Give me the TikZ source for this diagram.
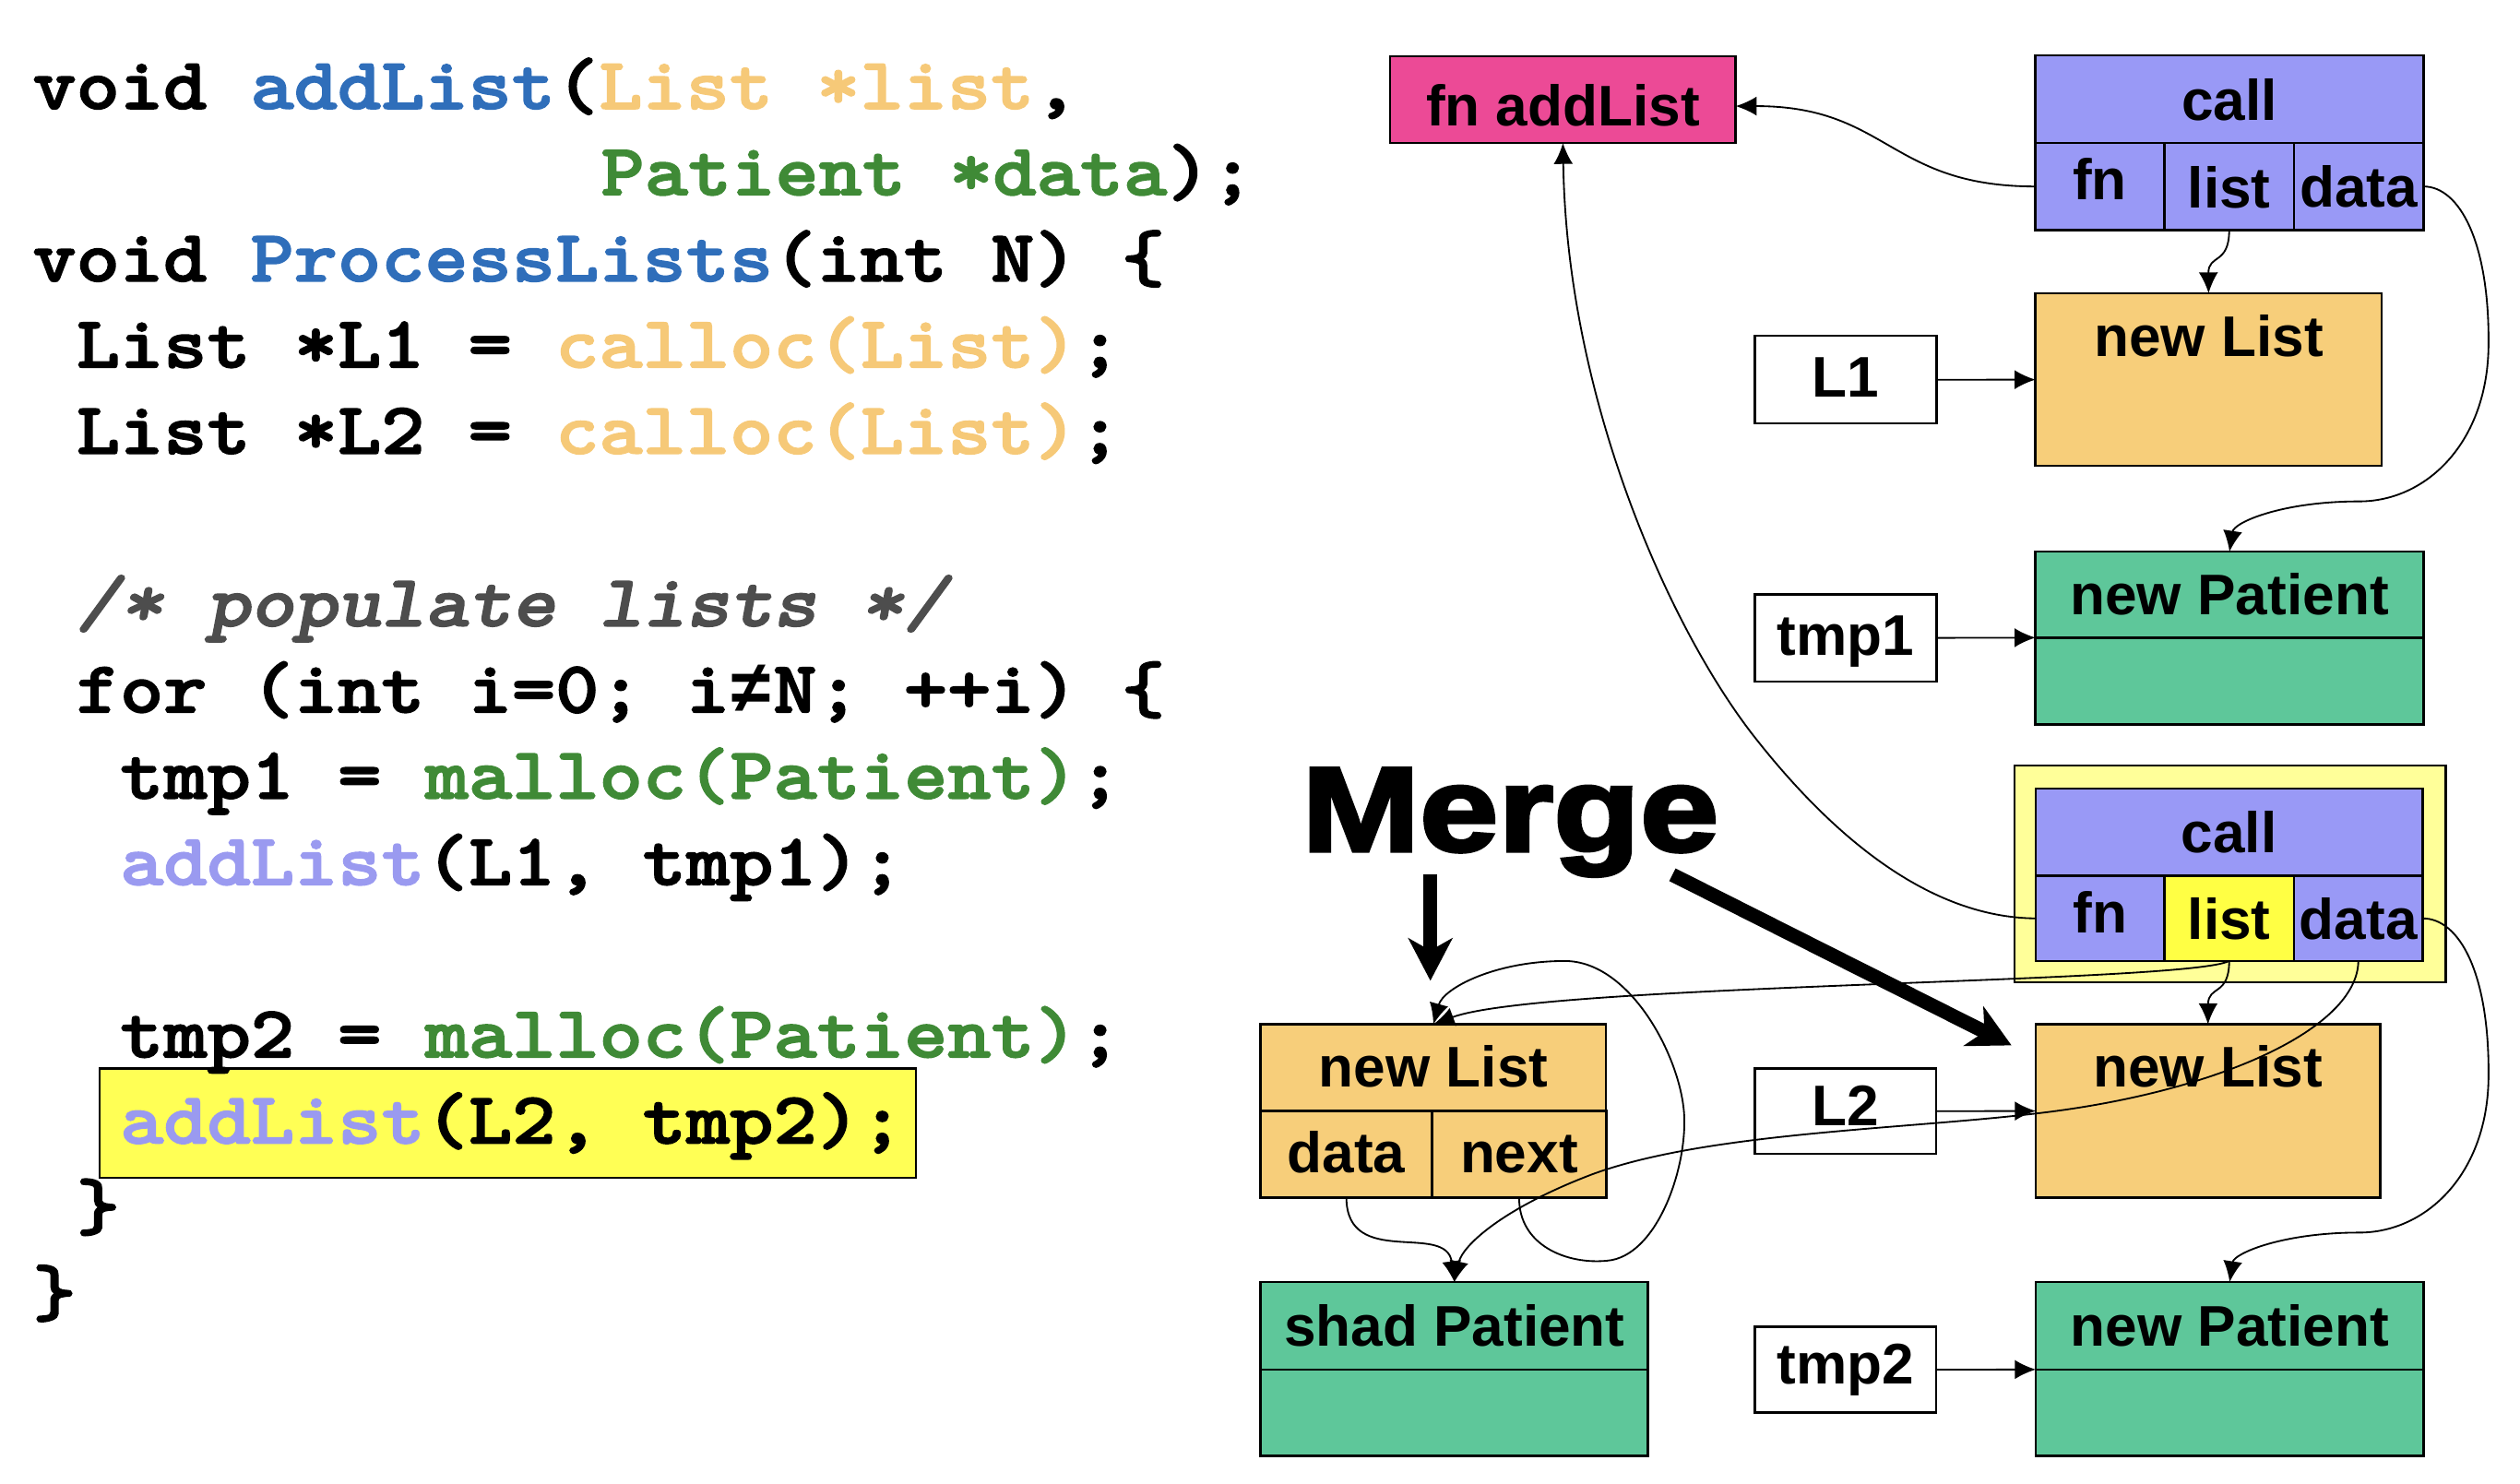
\documentclass[tikz,border=0pt]{standalone}
\usepackage{fontspec}
\setmainfont{Liberation Sans}
\newfontfamily\codefont[Extension=.otf, UprightFont=*-bold, ItalicFont=*-boldoblique, FakeStretch=1.13, FakeBold=2]{lmmonolt10}
\newfontfamily\neqfont{Liberation Mono}
\newfontfamily\mergefont[FakeStretch=1.18,FakeBold=3]{Liberation Sans Bold}
\usetikzlibrary{arrows.meta}
\definecolor{cblue}{RGB}{47,110,186}
\definecolor{corange}{RGB}{246,201,120}
\definecolor{cgreen}{RGB}{63,138,54}
\definecolor{clav}{RGB}{154,154,240}
\definecolor{ccomment}{RGB}{77,77,77}
\definecolor{fmag}{RGB}{236,74,150}
\definecolor{flav}{RGB}{153,153,246}
\definecolor{forange}{RGB}{247,206,122}
\definecolor{fgreen}{RGB}{94,199,154}
\definecolor{fyellow}{RGB}{255,255,68}
\definecolor{fhl}{RGB}{255,255,153}
\definecolor{fcode}{RGB}{255,255,85}
\newcommand\pxu{0.5690551pt}
\newcommand\neqch{\hbox to 15.42pt{\hss{\neqfont\bfseries ≠}\hss}}
\begin{document}
\begin{tikzpicture}[x=0.02cm,y=-0.02cm,
  rect/.style={draw=black, line width=0.8pt, inner sep=0pt, outer sep=0pt, anchor=north west},
  lbl/.style={font=\bfseries\fontsize{20.3pt}{24pt}\selectfont, inner sep=0pt, anchor=base},
  code/.style={font=\codefont\fontsize{26pt}{30pt}\selectfont, inner sep=0pt, anchor=base west},
  conn/.style={line width=0.6pt, -{Latex[length=7.4pt,width=6.8pt]}},
  mergearrow/.style={line width=5pt, -{Stealth[length=15pt,width=15.5pt,inset=4.3pt]}}]
\useasboundingbox (0,0) rectangle (1568,923);

% ---------------- code ----------------
\node[rect, fill=fcode, minimum width=508*\pxu, minimum height=68*\pxu] (hlcode) at (62,665) {};
\node[code] (c1) at (20,67.7) {void \textcolor{cblue}{addList}(\textcolor{corange}{List *list},};
\node[code] (c2) at (373.6,121.35) {\textcolor{cgreen}{Patient *data});};
\node[code] (c3) at (20,175) {void \textcolor{cblue}{ProcessLists}(int N) \{};
\node[code] (c4) at (47.2,228.65) {List *L1 = \textcolor{corange}{calloc(List)};};
\node[code] (c5) at (47.2,282.3) {List *L2 = \textcolor{corange}{calloc(List)};};
\node[code] (c7) at (47.2,389.6) {\itshape\color{ccomment}/* populate lists */};
\node[code] (c8) at (47.2,443.3) {for (int i=0; i\neqch N; ++i) \{};
\node[code] (c9) at (74.4,496.9) {tmp1 = \textcolor{cgreen}{malloc(Patient)};};
\node[code] (c10) at (74.4,550.6) {\textcolor{clav}{addList}(L1, tmp1);};
\node[code] (c12) at (74.4,657.9) {tmp2 = \textcolor{cgreen}{malloc(Patient)};};
\node[code] (c13) at (74.4,711.5) {\textcolor{clav}{addList}(L2, tmp2);};
\node[code] (c14) at (47.2,765.2) {\}};
\node[code] (c15) at (20,818.8) {\}};

% ---------------- upper structures ----------------
\node[rect, fill=fmag, minimum width=215*\pxu, minimum height=54*\pxu] (fnA) at (865,35) {};
\node[lbl] (fnAt) at (972.5,78.5) {fn addList};

\node[rect, fill=flav, minimum width=241.5*\pxu, minimum height=54.4*\pxu] (callA) at (1266.5,34.5) {};
\node[rect, fill=flav, minimum width=80.2*\pxu, minimum height=54.3*\pxu] (callA-fn) at (1266.5,88.9) {};
\node[rect, fill=flav, minimum width=80.7*\pxu, minimum height=54.3*\pxu] (callA-list) at (1346.7,88.9) {};
\node[rect, fill=flav, minimum width=80.6*\pxu, minimum height=54.3*\pxu] (callA-data) at (1427.4,88.9) {};
\node[lbl] (callAt) at (1387.25,75) {call};
\node[lbl] (callA-fnt) at (1306.6,124.5) {fn};
\node[lbl] (callA-listt) at (1387,129.5) {list};
\node[lbl] (callA-datat) at (1467.7,129) {data};

\node[rect, fill=forange, minimum width=215.5*\pxu, minimum height=107.5*\pxu] (listA) at (1266.5,182.5) {};
\node[lbl] (listAt) at (1374.25,222) {new List};
\node[rect, fill=white, minimum width=113*\pxu, minimum height=54.6*\pxu] (L1) at (1092,209) {};
\node[lbl] (L1t) at (1148.5,246.8) {L1};

\node[rect, fill=fgreen, minimum width=241.5*\pxu, minimum height=53.5*\pxu] (patA) at (1266.5,343.3) {};
\node[rect, fill=fgreen, minimum width=241.5*\pxu, minimum height=54.1*\pxu] (patAb) at (1266.5,396.8) {};
\node[lbl] (patAt) at (1387.25,382.6) {new Patient};
\node[rect, fill=white, minimum width=113*\pxu, minimum height=54.3*\pxu] (tmp1) at (1092,369.8) {};
\node[lbl] (tmp1t) at (1148.5,408) {tmp1};

% ---------------- lower structures ----------------
\node[rect, fill=fhl, minimum width=268.4*\pxu, minimum height=135.1*\pxu] (hl) at (1253.4,476.3) {};
\node[rect, fill=flav, minimum width=240.8*\pxu, minimum height=54.3*\pxu] (callB) at (1266.7,490.7) {};
\node[rect, fill=flav, minimum width=80.1*\pxu, minimum height=53*\pxu] (callB-fn) at (1266.7,545) {};
\node[rect, fill=fyellow, minimum width=80.5*\pxu, minimum height=53*\pxu] (callB-list) at (1346.8,545) {};
\node[rect, fill=flav, minimum width=80.2*\pxu, minimum height=53*\pxu] (callB-data) at (1427.3,545) {};
\node[lbl] (callBt) at (1387,530.5) {call};
\node[lbl] (callB-fnt) at (1306.7,580.5) {fn};
\node[lbl] (callB-listt) at (1387,584.5) {list};
\node[lbl] (callB-datat) at (1467.4,584.8) {data};

\node[rect, fill=forange, minimum width=214.3*\pxu, minimum height=107.9*\pxu] (listB) at (1266.7,637.4) {};
\node[lbl] (listBt) at (1373.8,676.4) {new List};
\node[rect, fill=white, minimum width=112.6*\pxu, minimum height=53.1*\pxu] (L2) at (1092,664.9) {};
\node[lbl] (L2t) at (1148.3,700.5) {L2};

\node[rect, fill=fgreen, minimum width=241.3*\pxu, minimum height=54.4*\pxu] (patB) at (1266.7,797.8) {};
\node[rect, fill=fgreen, minimum width=241.3*\pxu, minimum height=53.8*\pxu] (patBb) at (1266.7,852.2) {};
\node[lbl] (patBt) at (1387.35,837.4) {new Patient};
\node[rect, fill=white, minimum width=112.6*\pxu, minimum height=53.2*\pxu] (tmp2) at (1092,825.7) {};
\node[lbl] (tmp2t) at (1148.3,861) {tmp2};

\node[rect, fill=forange, minimum width=215*\pxu, minimum height=53.8*\pxu] (listM) at (784.4,637.4) {};
\node[rect, fill=forange, minimum width=106.7*\pxu, minimum height=54.1*\pxu] (listM-data) at (784.4,691.2) {};
\node[rect, fill=forange, minimum width=108.3*\pxu, minimum height=54.1*\pxu] (listM-next) at (891.1,691.2) {};
\node[lbl] (listMt) at (891.9,676.4) {new List};
\node[lbl] (listM-datat) at (837.7,729.5) {data};
\node[lbl] (listM-nextt) at (945.2,729.5) {next};

\node[rect, fill=fgreen, minimum width=241.1*\pxu, minimum height=54.4*\pxu] (shad) at (784.4,797.8) {};
\node[rect, fill=fgreen, minimum width=241.1*\pxu, minimum height=53.8*\pxu] (shadb) at (784.4,852.2) {};
\node[lbl] (shadt) at (905,837.4) {shad Patient};

% ---------------- Merge ----------------
\node[anchor=base west, inner sep=0pt, font=\mergefont\fontsize{42.5pt}{48pt}\selectfont] (merge) at (809.6,529.5) {Merge};
\coordinate (mv1) at (890,544.3);
\coordinate (mv2) at (890,610.3);
\coordinate (md1) at (1040.6,544.3);
\coordinate (md2) at (1251.6,650.5);
\draw[mergearrow] (mv1) -- (mv2);
\draw[mergearrow] (md1) -- (md2);

% ---------------- connectors ----------------
\draw[conn] (callA-fn.west) .. controls (1175,116) and (1175,66) .. ([yshift=-2.3pt]fnA.east);
\draw[conn] (callA-list.south) .. controls (1387,165) and (1374,158) .. (listA.north);
\draw[conn] (callA-data.east) .. controls (1530,116) and (1549,150) .. (1548.4,214.6)
   .. controls (1548,275) and (1510,312) .. (1468,312)
   .. controls (1420,312) and (1390,325) .. (patA.north);
\draw[conn] (L1.east) -- (listA.west);
\draw[conn] (tmp1.east) -- (patAb.north west);

\draw[conn] (callB-fn.west) .. controls (1200,571) and (1140,520) .. (1092,459)
   .. controls (1040,393) and (975,250) .. (fnA.south);
\draw[conn] (callB-list.south) .. controls (1387,620) and (1374,613) .. (listB.north);
\draw[conn] (callB-list.south) .. controls (1360,612) and (960,612) .. (listM.north);
\draw[conn] (listM-next.south) .. controls (945,775) and (975,787) .. (1000,784.5)
   .. controls (1030,782) and (1049,730) .. (1048,695.6)
   .. controls (1047,660) and (1015,598) .. (973.7,598)
   .. controls (930,598) and (898,615) .. (listM.north);
\draw[conn] (listM-data.south) .. controls (838,790) and (900,760) .. (shad.north);
\draw[conn] (callB-data.south) .. controls (1467,640) and (1380,680) .. (1266,693)
   .. controls (1180,703) and (1060,705) .. (990,731)
   .. controls (935,752) and (910,775) .. (shad.north);
\draw[conn] (callB-data.east) .. controls (1530,571.5) and (1549,605) .. (1548.4,670)
   .. controls (1548,730) and (1510,767) .. (1468,767)
   .. controls (1420,767) and (1390,780) .. (patB.north);
\draw[conn] (L2.east) -- (listB.west);
\draw[conn] (tmp2.east) -- (patBb.north west);
\end{tikzpicture}
\end{document}
